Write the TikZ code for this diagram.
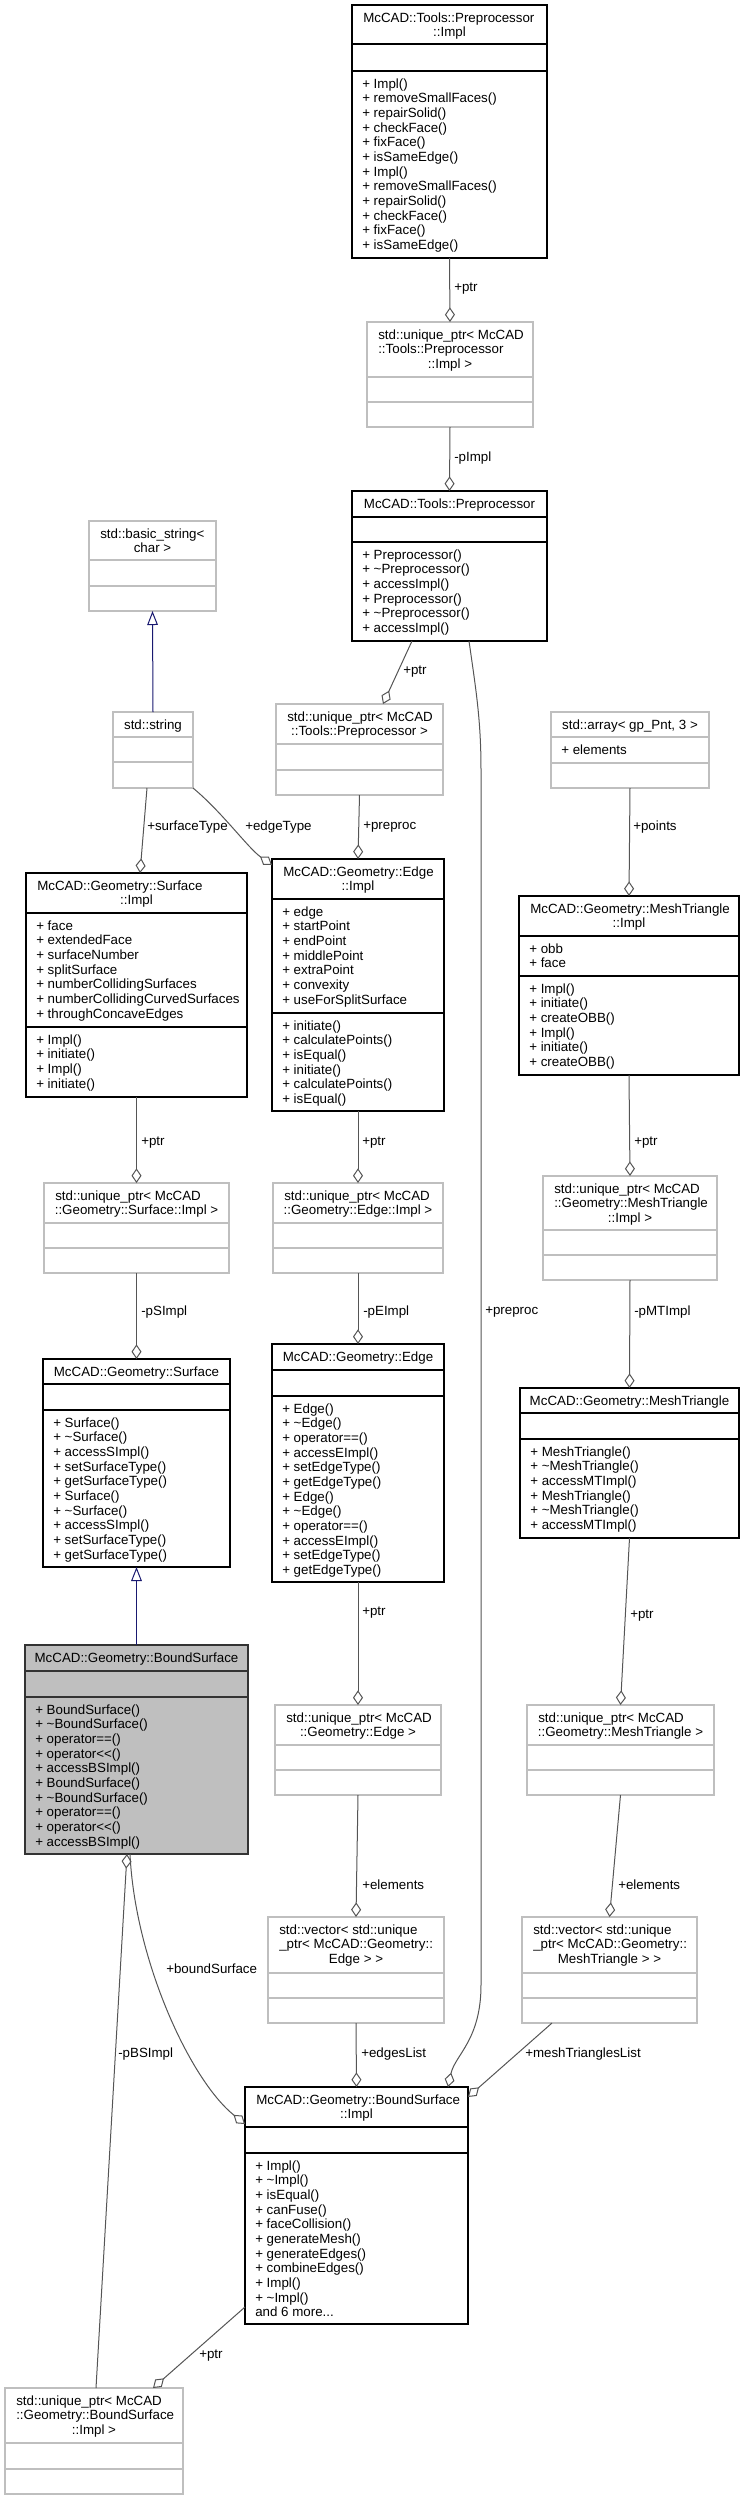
\documentclass[tikz,border=0pt]{standalone}
\usepackage{fontspec}
\setmainfont{Liberation Sans}
\usetikzlibrary{positioning,arrows.meta}
\definecolor{edgegray}{HTML}{555555}
\definecolor{extgray}{HTML}{BFBFBF}
\definecolor{inhblue}{HTML}{191970}
\definecolor{curfill}{HTML}{BFBFBF}

\newcommand{\px}{0.75pt}
\newcommand{\tld}{\textasciitilde}
\newcommand{\shl}{<\kern0pt<}

% frame of a class: style, name, x, y, width, height, compartment lines
\newcommand{\classbox}[7]{%
  \node[#1, minimum width=#5*\px, minimum height=#6*\px] (#2) at (#3+#5/2,#4+#6/2) {};
  \foreach \dv in {#7}
    \draw[#1 rule] ([yshift=-\dv*\px]#2.north west) -- ([yshift=-\dv*\px]#2.north east);
}
% one line title
\newcommand{\headone}[2]{\node[txt, anchor=base] (#1-t) at ([yshift=-17*\px]#1.north) {#2};}
% wrapped title: left lines, how many, last line centred
\newcommand{\headmore}[4]{%
  \node[txt, anchor=north west] (#1-t) at ([shift={(11,6.7)}]#1.north west) {\strut #2};
  \node[txt, anchor=base] (#1-c) at ([shift={(0,17+14.67*#3)}]#1.north) {#4};}
% member list below compartment line
\newcommand{\members}[3]{\node[txt, anchor=north west] (#1-#2) at ([shift={(10,#2+6.7)}]#1.north west) {\strut #3};}

\tikzset{
  cls/.style={draw=black, fill=white, line width=0.9pt, inner sep=0pt, outer sep=0pt},
  cls rule/.style={draw=black, line width=0.9pt},
  ext/.style={draw=extgray, fill=white, line width=0.9pt, inner sep=0pt, outer sep=0pt},
  ext rule/.style={draw=extgray, line width=0.9pt},
  cur/.style={draw=black!80, fill=curfill, line width=0.9pt, inner sep=0pt, outer sep=0pt},
  cur rule/.style={draw=black!80, line width=0.9pt},
  txt/.style={font=\fontsize{10}{11}\selectfont, inner sep=0pt, align=left},
  lbl/.style={font=\fontsize{10}{11}\selectfont, inner sep=0pt, anchor=west},
  uses/.style={draw=edgegray, line width=0.75pt, -{Diamond[open, length=11pt, width=7.5pt]}},
  isa/.style={draw=inhblue, line width=0.75pt, -{Triangle[open, length=10.5pt, width=8pt]}},
}

\begin{document}
\begin{tikzpicture}[x=0.75pt, y=-0.75pt]
\useasboundingbox (0,0) rectangle (745,2500);

% Preprocessor chain
\classbox{cls}{ppimpl}{352}{5}{195}{253}{39,66}
\headmore{ppimpl}{McCAD::Tools::Preprocessor}{1}{::Impl}
\members{ppimpl}{66}{+ Impl()\\+ removeSmallFaces()\\+ repairSolid()\\+ checkFace()\\+ fixFace()\\+ isSameEdge()\\+ Impl()\\+ removeSmallFaces()\\+ repairSolid()\\+ checkFace()\\+ fixFace()\\+ isSameEdge()}

\classbox{ext}{uppimpl}{367}{322}{166}{105}{55,80}
\headmore{uppimpl}{std::unique\_ptr< McCAD\\::Tools::Preprocessor}{2}{::Impl >}

\classbox{cls}{pp}{352}{491}{195}{150}{26,51}
\headone{pp}{McCAD::Tools::Preprocessor}
\members{pp}{51}{+ Preprocessor()\\+ \tld Preprocessor()\\+ accessImpl()\\+ Preprocessor()\\+ \tld Preprocessor()\\+ accessImpl()}

\classbox{ext}{bstr}{89}{521}{127}{90}{39,65}
\headmore{bstr}{std::basic\_string<}{1}{char >}

\classbox{ext}{upp}{276}{704}{167}{91}{40,66}
\headmore{upp}{std::unique\_ptr< McCAD}{1}{::Tools::Preprocessor >}

\classbox{ext}{str}{113}{712}{80}{76}{25,50}
\headone{str}{std::string}

\classbox{ext}{arr}{551}{712}{158}{76}{25,51}
\headone{arr}{std::array< gp\_Pnt, 3 >}
\members{arr}{25}{+ elements}

% Impl classes
\classbox{cls}{simpl}{26}{873}{221}{224}{40,154}
\headmore{simpl}{McCAD::Geometry::Surface}{1}{::Impl}
\members{simpl}{40}{+ face\\+ extendedFace\\+ surfaceNumber\\+ splitSurface\\+ numberCollidingSurfaces\\+ numberCollidingCurvedSurfaces\\+ throughConcaveEdges}
\members{simpl}{154}{+ Impl()\\+ initiate()\\+ Impl()\\+ initiate()}

\classbox{cls}{eimpl}{272}{859}{172}{252}{40,154}
\headmore{eimpl}{McCAD::Geometry::Edge}{1}{::Impl}
\members{eimpl}{40}{+ edge\\+ startPoint\\+ endPoint\\+ middlePoint\\+ extraPoint\\+ convexity\\+ useForSplitSurface}
\members{eimpl}{154}{+ initiate()\\+ calculatePoints()\\+ isEqual()\\+ initiate()\\+ calculatePoints()\\+ isEqual()}

\classbox{cls}{mtimpl}{519}{896}{220}{179}{40,80}
\headmore{mtimpl}{McCAD::Geometry::MeshTriangle}{1}{::Impl}
\members{mtimpl}{40}{+ obb\\+ face}
\members{mtimpl}{80}{+ Impl()\\+ initiate()\\+ createOBB()\\+ Impl()\\+ initiate()\\+ createOBB()}

\classbox{ext}{usimpl}{44}{1183}{185}{90}{40,65}
\headmore{usimpl}{std::unique\_ptr< McCAD}{1}{::Geometry::Surface::Impl >}

\classbox{ext}{ueimpl}{273}{1183}{170}{90}{40,65}
\headmore{ueimpl}{std::unique\_ptr< McCAD}{1}{::Geometry::Edge::Impl >}

\classbox{ext}{umtimpl}{543}{1176}{174}{104}{54,79}
\headmore{umtimpl}{std::unique\_ptr< McCAD\\::Geometry::MeshTriangle}{2}{::Impl >}

% Surface, Edge, MeshTriangle
\classbox{cls}{surf}{43}{1359}{187}{208}{25,51}
\headone{surf}{McCAD::Geometry::Surface}
\members{surf}{51}{+ Surface()\\+ \tld Surface()\\+ accessSImpl()\\+ setSurfaceType()\\+ getSurfaceType()\\+ Surface()\\+ \tld Surface()\\+ accessSImpl()\\+ setSurfaceType()\\+ getSurfaceType()}

\classbox{cls}{edge}{272}{1344}{172}{238}{26,52}
\headone{edge}{McCAD::Geometry::Edge}
\members{edge}{52}{+ Edge()\\+ \tld Edge()\\+ operator==()\\+ accessEImpl()\\+ setEdgeType()\\+ getEdgeType()\\+ Edge()\\+ \tld Edge()\\+ operator==()\\+ accessEImpl()\\+ setEdgeType()\\+ getEdgeType()}

\classbox{cls}{mt}{520}{1388}{219}{150}{25,51}
\headone{mt}{McCAD::Geometry::MeshTriangle}
\members{mt}{51}{+ MeshTriangle()\\+ \tld MeshTriangle()\\+ accessMTImpl()\\+ MeshTriangle()\\+ \tld MeshTriangle()\\+ accessMTImpl()}

% BoundSurface and its parts
\classbox{cur}{bs}{25}{1645}{223}{209}{26,52}
\headone{bs}{McCAD::Geometry::BoundSurface}
\members{bs}{52}{+ BoundSurface()\\+ \tld BoundSurface()\\+ operator==()\\+ operator\shl()\\+ accessBSImpl()\\+ BoundSurface()\\+ \tld BoundSurface()\\+ operator==()\\+ operator\shl()\\+ accessBSImpl()}

\classbox{ext}{uedge}{275}{1705}{166}{90}{40,65}
\headmore{uedge}{std::unique\_ptr< McCAD}{1}{::Geometry::Edge >}

\classbox{ext}{umt}{527}{1705}{187}{90}{40,65}
\headmore{umt}{std::unique\_ptr< McCAD}{1}{::Geometry::MeshTriangle >}

\classbox{ext}{vedge}{268}{1917}{176}{106}{56,81}
\headmore{vedge}{std::vector< std::unique\\\_ptr< McCAD::Geometry::}{2}{Edge > >}

\classbox{ext}{vmt}{522}{1917}{175}{106}{56,81}
\headmore{vmt}{std::vector< std::unique\\\_ptr< McCAD::Geometry::}{2}{MeshTriangle > >}

\classbox{cls}{bsimpl}{245}{2087}{223}{237}{40,66}
\headmore{bsimpl}{McCAD::Geometry::BoundSurface}{1}{::Impl}
\members{bsimpl}{66}{+ Impl()\\+ \tld Impl()\\+ isEqual()\\+ canFuse()\\+ faceCollision()\\+ generateMesh()\\+ generateEdges()\\+ combineEdges()\\+ Impl()\\+ \tld Impl()\\and 6 more...}

\classbox{ext}{ubsimpl}{5}{2388}{178}{106}{55,81}
\headmore{ubsimpl}{std::unique\_ptr< McCAD\\::Geometry::BoundSurface}{2}{::Impl >}

% connectors, diamond at the owner
\draw[uses] (ppimpl.south) -- (uppimpl.north);
\draw[uses] (uppimpl.south) -- (pp.north);
\draw[uses] ([xshift=-37.5*\px]pp.south) -- ([xshift=23.5*\px]upp.north);
\coordinate (bend1) at (481,770);
\coordinate (bend2) at (481,1985);
\draw[uses] ([xshift=19.5*\px]pp.south) .. controls (476,690) and (481,720) .. (bend1) -- (bend2)
  .. controls (481,2040) and (455,2055) .. ([xshift=91.5*\px]bsimpl.north);
\draw[isa] (str.north) -- (bstr.south);
\draw[uses] ([xshift=-6*\px]str.south) -- ([xshift=3.5*\px]simpl.north);
\draw[uses] (str.south east) .. controls (222,812) and (248,848) .. ([yshift=-6*\px]eimpl.north west);
\draw[uses] (upp.south) -- (eimpl.north);
\draw[uses] (arr.south) -- (mtimpl.north);
\draw[uses] (simpl.south) -- (usimpl.north);
\draw[uses] (eimpl.south) -- (ueimpl.north);
\draw[uses] (mtimpl.south) -- (umtimpl.north);
\draw[uses] (usimpl.south) -- (surf.north);
\draw[uses] (ueimpl.south) -- (edge.north);
\draw[uses] (umtimpl.south) -- (mt.north);
\draw[isa] (bs.north) -- (surf.south);
\draw[uses] (edge.south) -- (uedge.north);
\draw[uses] (mt.south) -- (umt.north);
\draw[uses] (uedge.south) -- (vedge.north);
\draw[uses] (umt.south) -- (vmt.north);
\draw[uses] (vedge.south) -- (bsimpl.north);
\draw[uses] ([xshift=-57.5*\px]vmt.south) -- ([yshift=-10*\px]bsimpl.north east);
\draw[uses] ([xshift=-6.5*\px]bs.south) .. controls (135,1960) and (190,2080) .. ([yshift=-37*\px]bsimpl.north west);
\draw[uses] ([yshift=17*\px]bsimpl.south west) -- ([xshift=59*\px]ubsimpl.north);
\draw[uses] ([xshift=2*\px]ubsimpl.north) -- ([xshift=-9.5*\px]bs.south);

% connector labels
\node[lbl] (l-ptr1) at (454,289) {+ptr};
\node[lbl] (l-pimpl) at (454,458) {-pImpl};
\node[lbl] (l-ptr2) at (403,672) {+ptr};
\node[lbl] (l-preproc1) at (485,1312) {+preproc};
\node[lbl] (l-stype) at (147,827) {+surfaceType};
\node[lbl] (l-etype) at (245,827) {+edgeType};
\node[lbl] (l-preproc2) at (363,827) {+preproc};
\node[lbl] (l-points) at (633,827) {+points};
\node[lbl] (l-ptr3) at (141,1143) {+ptr};
\node[lbl] (l-ptr4) at (362,1143) {+ptr};
\node[lbl] (l-ptr5) at (634,1143) {+ptr};
\node[lbl] (l-psimpl) at (141,1312) {-pSImpl};
\node[lbl] (l-peimpl) at (363,1312) {-pEImpl};
\node[lbl] (l-pmtimpl) at (634,1312) {-pMTImpl};
\node[lbl] (l-ptr6) at (362,1613) {+ptr};
\node[lbl] (l-ptr7) at (630,1616) {+ptr};
\node[lbl] (l-elem1) at (362,1885) {+elements};
\node[lbl] (l-elem2) at (618,1885) {+elements};
\node[lbl] (l-bsurf) at (166,1969) {+boundSurface};
\node[lbl] (l-pbsimpl) at (118,2054) {-pBSImpl};
\node[lbl] (l-elist) at (361,2054) {+edgesList};
\node[lbl] (l-mtlist) at (525,2054) {+meshTrianglesList};
\node[lbl] (l-ptr8) at (199,2356) {+ptr};
\end{tikzpicture}
\end{document}
